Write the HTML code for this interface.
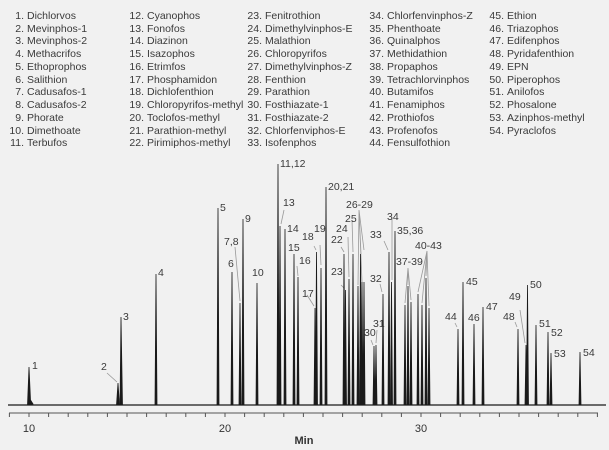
<!DOCTYPE html>
<html><head><meta charset="utf-8"><style>
html,body{margin:0;padding:0;background:#f1f1f1;}
svg{display:block;font-family:"Liberation Sans",sans-serif;}
.l text{font-size:10.5px;fill:#3a3a3a;}
.p text{font-size:10.5px;fill:#3a3a3a;}
</style></head><body>
<svg width="609" height="450" viewBox="0 0 609 450">
<rect width="609" height="450" fill="#f1f1f1"/>
<g class="l">
<g text-anchor="end">
<text x="24" y="19">1.</text><text x="24" y="32">2.</text><text x="24" y="44">3.</text><text x="24" y="57">4.</text><text x="24" y="70">5.</text><text x="24" y="83">6.</text><text x="24" y="95">7.</text><text x="24" y="108">8.</text><text x="24" y="121">9.</text><text x="24" y="134">10.</text><text x="24" y="146">11.</text>
<text x="144" y="19">12.</text><text x="144" y="32">13.</text><text x="144" y="44">14.</text><text x="144" y="57">15.</text><text x="144" y="70">16.</text><text x="144" y="83">17.</text><text x="144" y="95">18.</text><text x="144" y="108">19.</text><text x="144" y="121">20.</text><text x="144" y="134">21.</text><text x="144" y="146">22.</text>
<text x="262" y="19">23.</text><text x="262" y="32">24.</text><text x="262" y="44">25.</text><text x="262" y="57">26.</text><text x="262" y="70">27.</text><text x="262" y="83">28.</text><text x="262" y="95">29.</text><text x="262" y="108">30.</text><text x="262" y="121">31.</text><text x="262" y="134">32.</text><text x="262" y="146">33.</text>
<text x="384" y="19">34.</text><text x="384" y="32">35.</text><text x="384" y="44">36.</text><text x="384" y="57">37.</text><text x="384" y="70">38.</text><text x="384" y="83">39.</text><text x="384" y="95">40.</text><text x="384" y="108">41.</text><text x="384" y="121">42.</text><text x="384" y="134">43.</text><text x="384" y="146">44.</text>
<text x="504" y="19">45.</text><text x="504" y="32">46.</text><text x="504" y="44">47.</text><text x="504" y="57">48.</text><text x="504" y="70">49.</text><text x="504" y="83">50.</text><text x="504" y="95">51.</text><text x="504" y="108">52.</text><text x="504" y="121">53.</text><text x="504" y="134">54.</text>
</g>
<text x="27" y="19">Dichlorvos</text><text x="27" y="32">Mevinphos-1</text><text x="27" y="44">Mevinphos-2</text><text x="27" y="57">Methacrifos</text><text x="27" y="70">Ethoprophos</text><text x="27" y="83">Salithion</text><text x="27" y="95">Cadusafos-1</text><text x="27" y="108">Cadusafos-2</text><text x="27" y="121">Phorate</text><text x="27" y="134">Dimethoate</text><text x="27" y="146">Terbufos</text>
<text x="147" y="19">Cyanophos</text><text x="147" y="32">Fonofos</text><text x="147" y="44">Diazinon</text><text x="147" y="57">Isazophos</text><text x="147" y="70">Etrimfos</text><text x="147" y="83">Phosphamidon</text><text x="147" y="95">Dichlofenthion</text><text x="147" y="108">Chloropyrifos-methyl</text><text x="147" y="121">Toclofos-methyl</text><text x="147" y="134">Parathion-methyl</text><text x="147" y="146">Pirimiphos-methyl</text>
<text x="265" y="19">Fenitrothion</text><text x="265" y="32">Dimethylvinphos-E</text><text x="265" y="44">Malathion</text><text x="265" y="57">Chloropyrifos</text><text x="265" y="70">Dimethylvinphos-Z</text><text x="265" y="83">Fenthion</text><text x="265" y="95">Parathion</text><text x="265" y="108">Fosthiazate-1</text><text x="265" y="121">Fosthiazate-2</text><text x="265" y="134">Chlorfenviphos-E</text><text x="265" y="146">Isofenphos</text>
<text x="387" y="19">Chlorfenvinphos-Z</text><text x="387" y="32">Phenthoate</text><text x="387" y="44">Quinalphos</text><text x="387" y="57">Methidathion</text><text x="387" y="70">Propaphos</text><text x="387" y="83">Tetrachlorvinphos</text><text x="387" y="95">Butamifos</text><text x="387" y="108">Fenamiphos</text><text x="387" y="121">Prothiofos</text><text x="387" y="134">Profenofos</text><text x="387" y="146">Fensulfothion</text>
<text x="507" y="19">Ethion</text><text x="507" y="32">Triazophos</text><text x="507" y="44">Edifenphos</text><text x="507" y="57">Pyridafenthion</text><text x="507" y="70">EPN</text><text x="507" y="83">Piperophos</text><text x="507" y="95">Anilofos</text><text x="507" y="108">Phosalone</text><text x="507" y="121">Azinphos-methyl</text><text x="507" y="134">Pyraclofos</text>
</g>
<!-- leader lines -->
<g stroke="#999" stroke-width="0.8" fill="none">
<path d="M107 373 L117 382"/><path d="M235 247 L240 301"/><path d="M284 210 L281 224"/><path d="M297 266 L298 276"/>
<path d="M307 295 L314 306"/><path d="M314 246 L316 250"/><path d="M320 245 L321 265"/><path d="M341 247 L344 252"/><path d="M341 285 L344 288"/><path d="M348 237 L349 277"/><path d="M352 220 L353 252"/>
<path d="M359 210 L358 285 M359 210 L361 254 M359 210 L362 282 M359 210 L364 250"/>
<path d="M371 340 L373 345"/><path d="M377 330 L376 343"/><path d="M380 284 L382 292"/><path d="M384 241 L388 250"/><path d="M392 218 L392 280"/>
<path d="M408 268 L405 303 M408 268 L408 285 M408 268 L411 300"/>
<path d="M427 251 L418 292 M427 251 L422 303 M427 251 L426 276 M427 251 L429 306"/>
<path d="M455 323 L457 327"/><path d="M515 322 L517 327"/><path d="M520 310 L525 343"/>
</g>
<!-- peaks -->
<g fill="#1a1a1a" stroke="#1a1a1a" stroke-width="0.8" stroke-linejoin="miter">
<path d="M8 405 L606 405" fill="none" stroke-width="1.2"/>
<path d="M27.5 405 L29 367 L30.5 400 L33 404 Z"/>
<path d="M116.5 405 L118 383 L119.5 405 Z"/>
<path d="M120 405 L121 317 L122.5 405 Z"/>
<path d="M155 405 L156 274 L157 405 Z"/>
<path d="M217 405 L218 208 L219 405 Z"/>
<path d="M231 405 L232 272 L233 405 Z"/>
<path d="M239 405 L240 303 L241 405 Z"/>
<path d="M242 405 L243 219 L244 405 Z"/>
<path d="M256 405 L257 283 L258 405 Z"/>
<path d="M277 405 L278 164 L279 405 Z"/>
<path d="M279 405 L280 226 L281 405 Z"/>
<path d="M284 405 L285 229 L286 405 Z"/>
<path d="M293 405 L294 254 L295 405 Z"/>
<path d="M297 405 L298 277 L299 405 Z"/>
<path d="M314 405 L315 308 L316 405 Z"/>
<path d="M315.5 405 L316.5 252 L317.5 405 Z"/>
<path d="M320 405 L321 268 L322 405 Z"/>
<path d="M325 405 L326 187 L327 405 Z"/>
<path d="M343 405 L344 254 L345 405 Z"/>
<path d="M344.5 405 L345.5 290 L346.5 405 Z"/>
<path d="M348 405 L349 279 L350 405 Z"/>
<path d="M352 405 L353 254 L354 405 Z"/>
<path d="M357 405 L358 286 L359 405 Z"/>
<path d="M359.5 405 L360.5 254 L361.5 405 Z"/>
<path d="M361 405 L362 282 L363 405 Z"/>
<path d="M363 405 L364 282 L365 405 Z"/>
<path d="M373 405 L374 346 L375 405 Z"/>
<path d="M375 405 L376 345 L377 405 Z"/>
<path d="M382 405 L383 294 L384 405 Z"/>
<path d="M388 405 L389 252 L390 405 Z"/>
<path d="M390.5 405 L391.5 282 L392.5 405 Z"/>
<path d="M394 405 L395 231 L396 405 Z"/>
<path d="M404 405 L405 305 L406 405 Z"/>
<path d="M407 405 L408 286 L409 405 Z"/>
<path d="M410 405 L411 302 L412 405 Z"/>
<path d="M417 405 L418 294 L419 405 Z"/>
<path d="M421 405 L422 305 L423 405 Z"/>
<path d="M425 405 L426 278 L427 405 Z"/>
<path d="M428 405 L429 308 L430 405 Z"/>
<path d="M457 405 L458 329 L459 405 Z"/>
<path d="M462 405 L463 282 L464 405 Z"/>
<path d="M473 405 L474 324 L475 405 Z"/>
<path d="M482 405 L483 307 L484 405 Z"/>
<path d="M517 405 L518 329 L519 405 Z"/>
<path d="M525 405 L526 345 L527 405 Z"/>
<path d="M526.5 405 L527.5 285 L528.5 405 Z"/>
<path d="M535 405 L536 325 L537 405 Z"/>
<path d="M547 405 L548 332 L549 405 Z"/>
<path d="M550 405 L551 353 L552 405 Z"/>
<path d="M579 405 L580 352 L581 405 Z"/>
</g>
<!-- peak labels -->
<g class="p">
<text x="32" y="369">1</text><text x="101" y="370">2</text><text x="123" y="320">3</text><text x="158" y="276">4</text><text x="220" y="211">5</text><text x="228" y="267">6</text><text x="224" y="245">7,8</text><text x="245" y="222">9</text><text x="252" y="276">10</text><text x="280" y="167">11,12</text><text x="283" y="206">13</text><text x="287" y="232">14</text><text x="288" y="251">15</text><text x="299" y="264">16</text>
<text x="302" y="297">17</text><text x="302" y="240">18</text><text x="314" y="232">19</text><text x="328" y="190">20,21</text><text x="331" y="243">22</text><text x="331" y="275">23</text><text x="336" y="232">24</text><text x="345" y="222">25</text><text x="346" y="208">26-29</text><text x="364" y="336">30</text><text x="373" y="327">31</text><text x="370" y="282">32</text><text x="370" y="238">33</text><text x="387" y="220">34</text><text x="397" y="234">35,36</text><text x="396" y="265">37-39</text><text x="415" y="249">40-43</text>
<text x="445" y="320">44</text><text x="466" y="285">45</text><text x="468" y="321">46</text><text x="486" y="310">47</text><text x="503" y="320">48</text><text x="509" y="300">49</text><text x="530" y="288">50</text><text x="539" y="327">51</text><text x="551" y="336">52</text><text x="554" y="357">53</text><text x="583" y="356">54</text>
</g>
<!-- axis -->
<g stroke="#555" stroke-width="1">
<path d="M9 413 L598 413"/>
<path d="M9.4 413v4M29 413v4M48.6 413v4M68.2 413v4M87.8 413v4M107.4 413v4M127 413v4M146.6 413v4M166.2 413v4M185.8 413v4M205.4 413v4M225 413v4M244.6 413v4M264.2 413v4M283.8 413v4M303.4 413v4M323 413v4M342.6 413v4M362.2 413v4M381.8 413v4M401.4 413v4M421 413v4M440.6 413v4M460.2 413v4M479.8 413v4M499.4 413v4M519 413v4M538.6 413v4M558.2 413v4M577.8 413v4M597.4 413v4"/>
</g>
<g font-size="11" fill="#333" text-anchor="middle">
<text x="29" y="432">10</text><text x="225" y="432">20</text><text x="421" y="432">30</text>
<text x="304" y="444" font-weight="bold">Min</text>
</g>
</svg>
</body></html>
